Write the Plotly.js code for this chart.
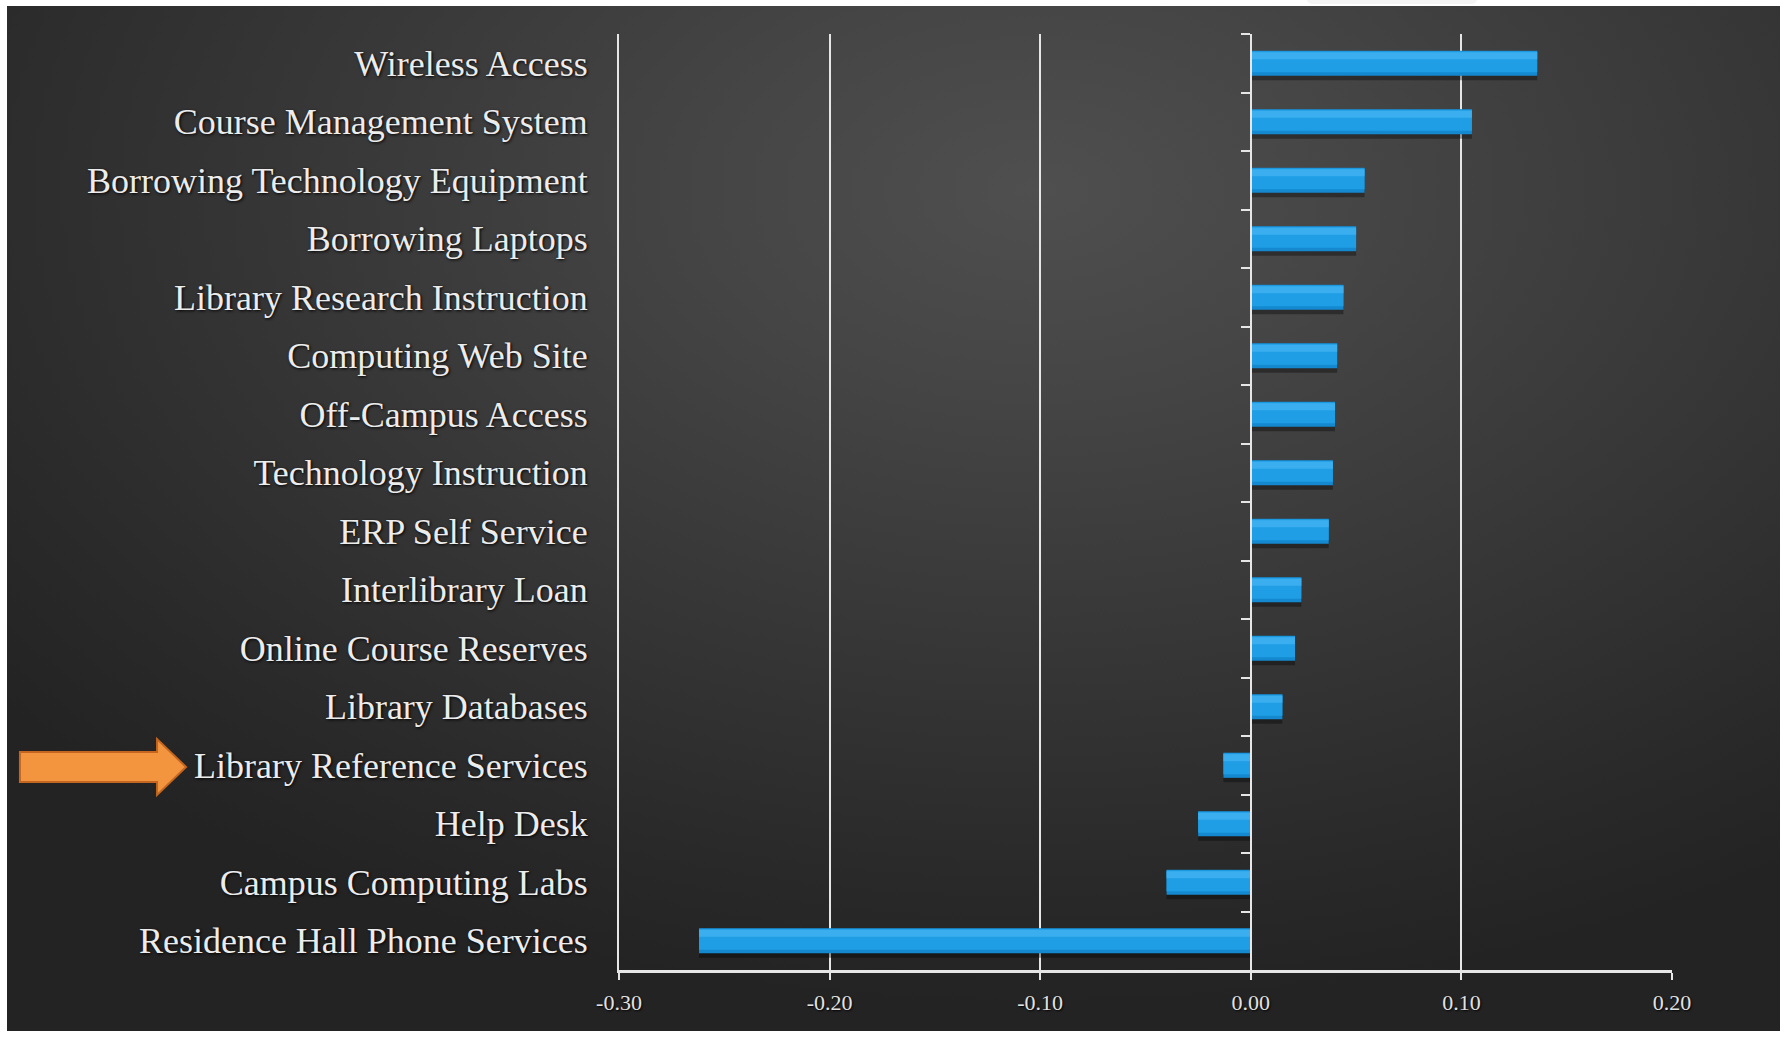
<!DOCTYPE html>
<html>
<head>
<meta charset="utf-8">
<script src="https://cdn.plot.ly/plotly-3.0.1.min.js"></script>
<style>
  html, body { margin: 0; padding: 0; background: #ffffff; }
  #wrap { position: relative; width: 1787px; height: 1037px; overflow: hidden; background: #ffffff; }
  #bg { position: absolute; left: 7px; top: 6px; width: 1773px; height: 1025px;
        background: radial-gradient(ellipse 75% 80% at 58% 18%, #4f4f4f 0%, #454545 25%, #373737 55%, #292929 85%, #232323 100%); }
  #tab { position: absolute; left: 1307px; top: -6px; width: 170px; height: 10px; background: #f4f4f4; border-radius: 6px; }
  #chart { position: absolute; left: 0; top: 0; width: 1787px; height: 1037px; }
</style>
</head>
<body>
<div id="wrap">
  <div id="bg"></div>
  <div id="tab"></div>
  <div id="chart"></div>
</div>
<script>
// ---- data ----
const categories = [
  "Wireless Access",
  "Course Management System",
  "Borrowing Technology Equipment",
  "Borrowing Laptops",
  "Library Research Instruction",
  "Computing Web Site",
  "Off-Campus Access",
  "Technology Instruction",
  "ERP Self Service",
  "Interlibrary Loan",
  "Online Course Reserves",
  "Library Databases",
  "Library Reference Services",
  "Help Desk",
  "Campus Computing Labs",
  "Residence Hall Phone Services"
];
const values = [0.136, 0.105, 0.054, 0.050, 0.044, 0.041, 0.040, 0.039, 0.037, 0.024, 0.021, 0.015, -0.013, -0.025, -0.040, -0.262];
const xTickValues = [-0.30, -0.20, -0.10, 0.00, 0.10, 0.20];
const xTickLabels = ["-0.30", "-0.20", "-0.10", "0.00", "0.10", "0.20"];
const highlightedCategory = "Library Reference Services";

// ---- layout geometry ----
const W = 1787, H = 1037;
const M = {l: 619, r: 115, t: 34, b: 67};
const plotW = W - M.l - M.r, plotH = H - M.t - M.b;
const zeroPos = (0 - xTickValues[0]) / (xTickValues[xTickValues.length - 1] - xTickValues[0]);

function barTrace(width, offset, color, axis) {
  return {
    type: 'bar', orientation: 'h',
    x: values, y: categories,
    yaxis: axis || 'y',
    width: width, offset: offset,
    marker: {color: color, line: {width: 0}},
    hoverinfo: 'skip', showlegend: false
  };
}

const traces = [
  barTrace(0.47, -0.18, 'rgba(0,0,0,0.35)'),
  barTrace(0.43, -0.215, '#1589cf'),
  barTrace(0.36, -0.205, '#1f9ee5'),
  barTrace(0.12, -0.19, '#3aaeee'),
  // invisible companion on the label axis
  barTrace(0.43, -0.215, 'rgba(0,0,0,0)', 'y2')
];

// arrow pointing at the highlighted category label (pixel -> paper)
const px = x => (x - M.l) / plotW;
const py = y => (H - M.b - y) / plotH;
const arrowPts = [[20,752],[157,752],[157,739],[186,767],[157,795],[157,782],[20,782]];
const arrowPath = 'M ' + arrowPts.map(p => px(p[0]).toFixed(4) + ',' + py(p[1]).toFixed(4)).join(' L ') + ' Z';

const serif = '"Liberation Serif", "Times New Roman", serif';

const layout = {
  width: W, height: H,
  margin: M,
  paper_bgcolor: 'rgba(0,0,0,0)',
  plot_bgcolor: 'rgba(0,0,0,0)',
  barmode: 'overlay',
  showlegend: false,
  xaxis: {
    range: [xTickValues[0], xTickValues[xTickValues.length - 1]],
    tickmode: 'array', tickvals: xTickValues, ticktext: xTickLabels,
    showgrid: true, gridcolor: '#e6e6e6', gridwidth: 2,
    zeroline: true, zerolinecolor: '#e6e6e6', zerolinewidth: 2,
    showline: true, linecolor: '#e6e6e6', linewidth: 3,
    ticks: 'outside', ticklen: 7, tickwidth: 2, tickcolor: '#e6e6e6',
    ticklabelstandoff: 4,
    tickfont: {family: serif, size: 22, color: '#e2e2e2', shadow: '1px 1px 2px #000'},
    fixedrange: true
  },
  yaxis: {
    type: 'category', autorange: 'reversed',
    anchor: 'free', position: zeroPos,
    showline: true, linecolor: '#e6e6e6', linewidth: 2,
    tickson: 'boundaries', ticks: 'outside', ticklen: 9, tickwidth: 2, tickcolor: '#e6e6e6',
    showticklabels: false, showgrid: false, zeroline: false,
    fixedrange: true
  },
  yaxis2: {
    type: 'category', autorange: 'reversed',
    overlaying: 'y', anchor: 'x', side: 'left',
    showline: true, linecolor: '#e6e6e6', linewidth: 2,
    ticks: '', showgrid: false, zeroline: false,
    ticklabelstandoff: 22,
    tickfont: {family: serif, size: 36, color: '#ececec', shadow: '1px 1px 3px #000'},
    fixedrange: true
  },
  shapes: [{
    type: 'path', xref: 'paper', yref: 'paper', path: arrowPath,
    fillcolor: '#f3953f', line: {color: '#c4661f', width: 2}, layer: 'above'
  }]
};

Plotly.newPlot('chart', traces, layout, {displayModeBar: false, staticPlot: true});
</script>
</body>
</html>
